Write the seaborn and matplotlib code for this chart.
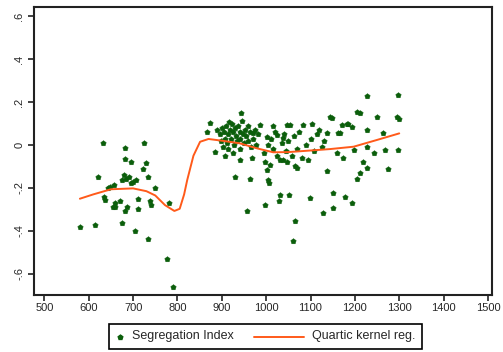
import seaborn as sns
import numpy as np
import pandas as pd
import matplotlib.pyplot as plt
from matplotlib.lines import Line2D
from matplotlib.offsetbox import AnchoredOffsetbox, HPacker, TextArea, DrawingArea

# scatter: segregation index by x
left_x = [580, 615, 620, 632, 634, 636, 643, 649, 655, 656, 660, 660, 670, 675, 675, 679, 681,
          682, 682, 685, 686, 690, 695, 696, 700, 705, 707, 710, 710, 722, 724, 730, 733, 733,
          739, 740, 750, 776, 782, 791]
left_y = [-0.383, -0.372, -0.147, 0.008, -0.24, -0.256, -0.2, -0.194, -0.287, -0.186, -0.29,
          -0.27, -0.26, -0.163, -0.361, -0.14, -0.067, -0.015, -0.305, -0.16, -0.29, -0.15,
          -0.178, -0.078, -0.17, -0.398, -0.163, -0.253, -0.3, -0.113, 0.01, -0.082, -0.15,
          -0.439, -0.26, -0.28, -0.2, -0.532, -0.268, -0.662]

mid_x = [866, 874, 885, 902, 908, 917, 926, 930, 941, 943, 956, 964, 968, 971, 986, 994, 998,
         998, 1001, 1001, 1003, 1007, 1009, 1016, 1024, 1030, 1031, 1031, 1039, 1039, 1047,
         1047, 1052, 1054, 1060, 1065, 1065, 1069, 1084, 1095, 1099, 1103, 1118, 1128, 1137,
         1137, 1144, 1148, 1150, 1150, 1159, 1162, 1167, 1170, 1173, 1178, 1182, 1185, 1193,
         1193, 1197, 1204, 1204, 1212, 1212, 1219, 1227, 1227, 1227, 1227, 1242, 1249, 1264,
         1268, 1275, 1294, 1298, 1298, 1300]
mid_y = [0.062, 0.104, -0.031, -0.008, -0.051, 0.108, -0.039, -0.15, -0.07, 0.147, -0.307,
         -0.16, -0.062, 0.054, 0.093, -0.039, -0.078, -0.279, 0.039, -0.116, -0.163, -0.175,
         -0.093, 0.088, 0.047, -0.259, -0.07, -0.233, 0.031, -0.07, 0.093, -0.078, -0.233,
         0.093, -0.447, -0.353, -0.1, -0.109, 0.093, -0.07, -0.248, 0.1, 0.07, -0.315, 0.054,
         -0.119, 0.13, 0.124, -0.225, -0.294, -0.039, 0.055, 0.054, 0.093, -0.062, -0.24, 0.1,
         0.1, 0.085, -0.268, -0.023, 0.155, -0.16, 0.148, -0.132, -0.078, 0.228, 0.07, -0.008,
         -0.109, -0.039, 0.132, 0.054, -0.023, -0.113, 0.132, 0.233, -0.023, 0.12]

blob_x = [890, 895, 898, 900, 905, 908, 910, 912, 915, 918, 920, 922, 925, 927, 930, 932, 935,
          937, 940, 942, 945, 948, 950, 952, 955, 958, 960, 963, 966, 970, 975, 978, 982, 940,
          915, 1005, 1010, 1015, 1020, 1025, 1035, 1040, 1045, 1050, 1058, 1062, 1070, 1075,
          1080, 1090, 1100, 1108, 1115, 1125, 1130]
blob_y = [0.07, 0.05, 0.02, 0.08, 0.06, 0.03, 0.09, 0.01, 0.05, 0.07, 0.03, 0.1, 0.06, 0.0,
          0.08, 0.04, 0.02, 0.09, 0.06, 0.03, 0.11, 0.05, 0.01, 0.07, 0.04, 0.09, 0.02, 0.06,
          -0.01, 0.03, 0.07, 0.0, 0.05, -0.02, -0.02, 0.0, 0.03, -0.02, 0.06, -0.05, 0.01, 0.05,
          -0.03, 0.02, -0.05, 0.04, -0.02, 0.06, -0.06, 0.0, 0.03, -0.03, 0.05, -0.01, 0.02]

# kernel regression curve
kern_x = [580, 610, 650, 700, 730, 750, 772, 793, 805, 815, 822, 836, 851, 870, 900, 940, 980,
          1016, 1050, 1084, 1144, 1197, 1249, 1300]
kern_y = [-0.25, -0.23, -0.206, -0.202, -0.215, -0.235, -0.28, -0.307, -0.297, -0.23, -0.163,
          -0.05, 0.015, 0.028, 0.02, 0.008, -0.016, -0.034, -0.033, -0.028, -0.019, -0.008,
          0.023, 0.054]

pts = pd.DataFrame({"x": left_x + mid_x + blob_x, "y": left_y + mid_y + blob_y})
kern = pd.DataFrame({"x": kern_x, "y": kern_y})

green = "#0b5e0b"
orange = "#ff5a1a"

sns.set_style("ticks")
plt.rcParams["font.family"] = ["Liberation Sans", "DejaVu Sans"]

fig = plt.figure(figsize=(5.03, 3.52), dpi=100)
ax = fig.add_axes([0.068, 0.162, 0.91, 0.818])

sns.scatterplot(data=pts, x="x", y="y", ax=ax, marker="p", s=17, color=green,
                edgecolor=green, linewidth=0.3, legend=False, zorder=3)
sns.lineplot(data=kern, x="x", y="y", ax=ax, color=orange, linewidth=1.4,
             legend=False, zorder=4)

ax.set_xlim(477, 1509)
ax.set_ylim(-0.698, 0.642)
ax.set_xticks(range(500, 1501, 100))
ax.set_yticks([-0.6, -0.4, -0.2, 0, 0.2, 0.4, 0.6])
ax.set_yticklabels(["-.6", "-.4", "-.2", "0", ".2", ".4", ".6"], rotation=90, va="center")
ax.tick_params(labelsize=8, length=4, width=1.2, color="#222222", pad=2)
ax.tick_params(axis="y", pad=3)
ax.set_xlabel("")
ax.set_ylabel("")
for s in ax.spines.values():
    s.set_visible(True)
    s.set_linewidth(1.5)
    s.set_color("#222222")

# legend below the plot: marker entry with a short key, line entry with a long key
da1 = DrawingArea(6, 8)
da1.add_artist(Line2D([3], [4], marker="p", ms=3.5, color=green, linestyle="none"))
t1 = TextArea("Segregation Index", textprops=dict(size=9))
da2 = DrawingArea(36, 8)
da2.add_artist(Line2D([0, 36], [4, 4], color=orange, linewidth=1.4))
t2 = TextArea("Quartic kernel reg.", textprops=dict(size=9))
row = HPacker(children=[HPacker(children=[da1, t1], sep=6, align="center"),
                        HPacker(children=[da2, t2], sep=6, align="center")],
              sep=14, align="center")
leg = AnchoredOffsetbox(loc="center", child=row, pad=0.5, borderpad=0, frameon=True,
                        prop=dict(size=9), bbox_to_anchor=(265.5 / 503, 1 - 336.5 / 352),
                        bbox_transform=fig.transFigure)
leg.patch.set_boxstyle("square", pad=0)
leg.patch.set_edgecolor("black")
leg.patch.set_linewidth(1.2)
fig.add_artist(leg)

fig.savefig("out.png", dpi=100)
